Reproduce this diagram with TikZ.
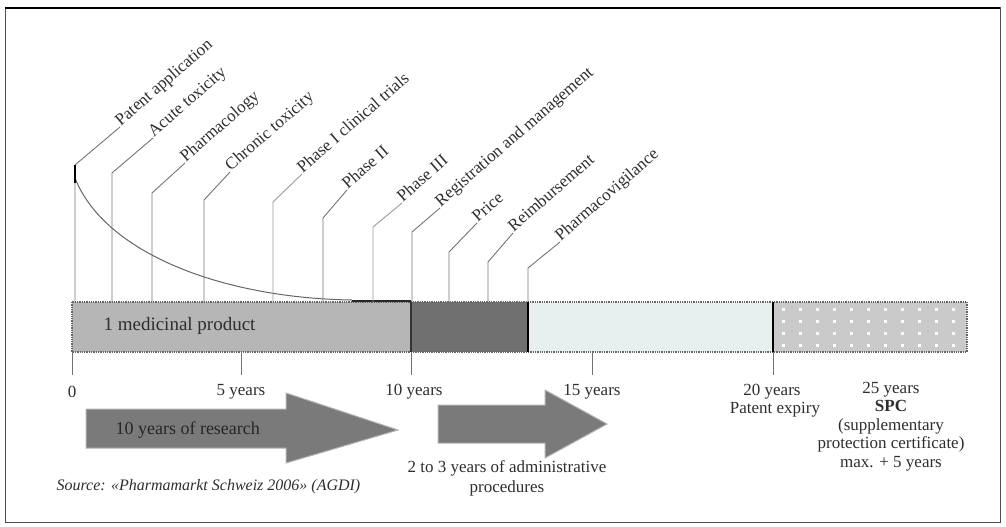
\documentclass[tikz,border=0pt]{standalone}
\usepackage{fontspec}
\setmainfont{Liberation Serif}
\usepackage{tikz}

\definecolor{researchgray}{HTML}{B6B6B6}
\definecolor{admingray}{HTML}{707070}
\definecolor{patentlight}{HTML}{E8EFEF}
\definecolor{spcgray}{HTML}{CACACA}
\definecolor{arrowgray}{HTML}{7A7A7A}
\definecolor{txtgray}{HTML}{2E2E2E}

\tikzset{
  leader/.style={draw=black!55, line width=0.9pt},
  phase/.style={rotate=41, anchor=base west, inner sep=1pt, text=txtgray,
    font=\fontsize{17}{20}\selectfont},
  yearlabel/.style={text=txtgray, inner sep=0pt, font=\fontsize{17}{20}\selectfont},
  blockarrow/.style={fill=arrowgray, draw=black!30, line width=1pt},
  tick/.style={draw=black!55, line width=1pt},
}

\begin{document}
\begin{tikzpicture}[x=1pt,y=-1pt]
    \useasboundingbox (0,0) rectangle (1006,527);
    % frame
    \draw[line width=1pt, black!70] (5,8) rectangle (1000,522);
    \draw[line width=2pt] (5,8) -- (1000,8);

    % the time bar
    \fill[researchgray] (72,302) rectangle (411,352);
    \fill[admingray] (411,302) rectangle (528,352);
    \fill[patentlight] (528,302) rectangle (773,352);
    \fill[spcgray] (773,302) rectangle (967,352);
    \foreach \col in {0,...,10}
        \foreach \row in {309,321,333,345}
            \fill[white] (782+17*\col,\row-1) rectangle ++(2.5,2.5);
    \draw[densely dotted, black!60, line width=1.3pt] (72,302) rectangle (967,352);
    \draw[line width=1.2pt, black!80] (411,302) -- (411,352);
    \draw[line width=1.8pt] (528,302) -- (528,352);
    \draw[line width=1.8pt] (773,302) -- (773,352);
    \node[anchor=west, text=txtgray, font=\fontsize{19}{22}\selectfont] (product) at (100,326) {1 medicinal product};

    % attrition curve
    \draw[black!60, line width=1pt] (75,178) .. controls (104,252) and (220,298) .. (352,300);
    \draw[line width=2pt, black!85] (352,301) -- (411,301);

    % milestones above the bar
    \coordinate (t1) at (75,165);
    \coordinate (t2) at (112,173);
    \coordinate (t3) at (152,193);
    \coordinate (t4) at (204,200);
    \coordinate (t5) at (273,202);
    \coordinate (t6) at (323,218);
    \coordinate (t7) at (373,227);
    \coordinate (t8) at (412,232);
    \coordinate (t9) at (449,252);
    \coordinate (t10) at (488,262);
    \coordinate (t11) at (528,268);
    \node[phase] (patent) at (120,127) {Patent application};
    \node[phase] (acute) at (153,138) {Acute toxicity};
    \node[phase] (pharma) at (185,163) {Pharmacology};
    \node[phase] (chronic) at (230,172) {Chronic toxicity};
    \node[phase] (phaseone) at (302,174) {Phase I clinical trials};
    \node[phase] (phasetwo) at (347,190) {Phase II};
    \node[phase] (phasethree) at (402,203) {Phase III};
    \node[phase] (regist) at (440,208) {Registration and management};
    \node[phase] (price) at (477,223) {Price};
    \node[phase] (reimb) at (513,233) {Reimbursement};
    \node[phase] (vigil) at (560,242) {Pharmacovigilance};
    \draw[leader] (t1 |- 0,302) -- (t1) -- (patent.base west);
    \draw[line width=1.4pt] (t1) -- ++(0,18);
    \draw[leader] (t2 |- 0,302) -- (t2) -- (acute.base west);
    \draw[leader] (t3 |- 0,302) -- (t3) -- (pharma.base west);
    \draw[leader] (t4 |- 0,302) -- (t4) -- (chronic.base west);
    \draw[leader, draw=black!40] (t5 |- 0,302) -- (t5) -- (phaseone.base west);
    \draw[leader] (t6 |- 0,302) -- (t6) -- (phasetwo.base west);
    \draw[leader, draw=black!40] (t7 |- 0,302) -- (t7) -- (phasethree.base west);
    \draw[leader] (t8 |- 0,302) -- (t8) -- (regist.base west);
    \draw[leader] (t9 |- 0,302) -- (t9) -- (price.base west);
    \draw[leader] (t10 |- 0,302) -- (t10) -- (reimb.base west);
    \draw[leader] (t11 |- 0,302) -- (t11) -- (vigil.base west);

    % year scale
    \draw[tick] (72,352) -- (72,375);
    \draw[tick] (241,352) -- (241,375);
    \draw[tick] (411,352) -- (411,375);
    \draw[tick] (592,352) -- (592,375);
    \draw[tick] (773,352) -- (773,375);
    \node[yearlabel] (yzero) at (72,392) {0};
    \node[yearlabel] (yfive) at (241,392) {5 years};
    \node[yearlabel] (yten) at (414,392) {10 years};
    \node[yearlabel] (yfifteen) at (592,392) {15 years};
    \node[yearlabel] (ytwenty) at (772,392) {20 years};
    \node[yearlabel] (expiry) at (775,410) {Patent expiry};
    \node[yearlabel, align=center, font=\fontsize{17}{18.5}\selectfont, anchor=north]
        (spc) at (891,382) {25 years\\\textbf{SPC}\\(supplementary\\protection certificate)\\max. + 5 years};

    % block arrows
    \filldraw[blockarrow] (86,409) -- (286,409) -- (286,393) -- (398,430) -- (286,463)
        -- (286,448) -- (86,448) -- cycle;
    \node[anchor=west, text=black!85, font=\fontsize{18}{20}\selectfont] (research) at (112,430) {10 years of research};
    \filldraw[blockarrow] (438,405) -- (545,405) -- (545,390) -- (607,424) -- (545,458)
        -- (545,443) -- (438,443) -- cycle;
    \node[yearlabel, align=center, font=\fontsize{17}{20}\selectfont, anchor=north]
        (admin) at (507,460) {2 to 3 years of administrative\\procedures};
    \node[anchor=west, text=txtgray, font=\itshape\fontsize{16}{18}\selectfont] (source) at (53,487)
        {Source: «Pharmamarkt Schweiz 2006» (AGDI)};
\end{tikzpicture}
\end{document}
